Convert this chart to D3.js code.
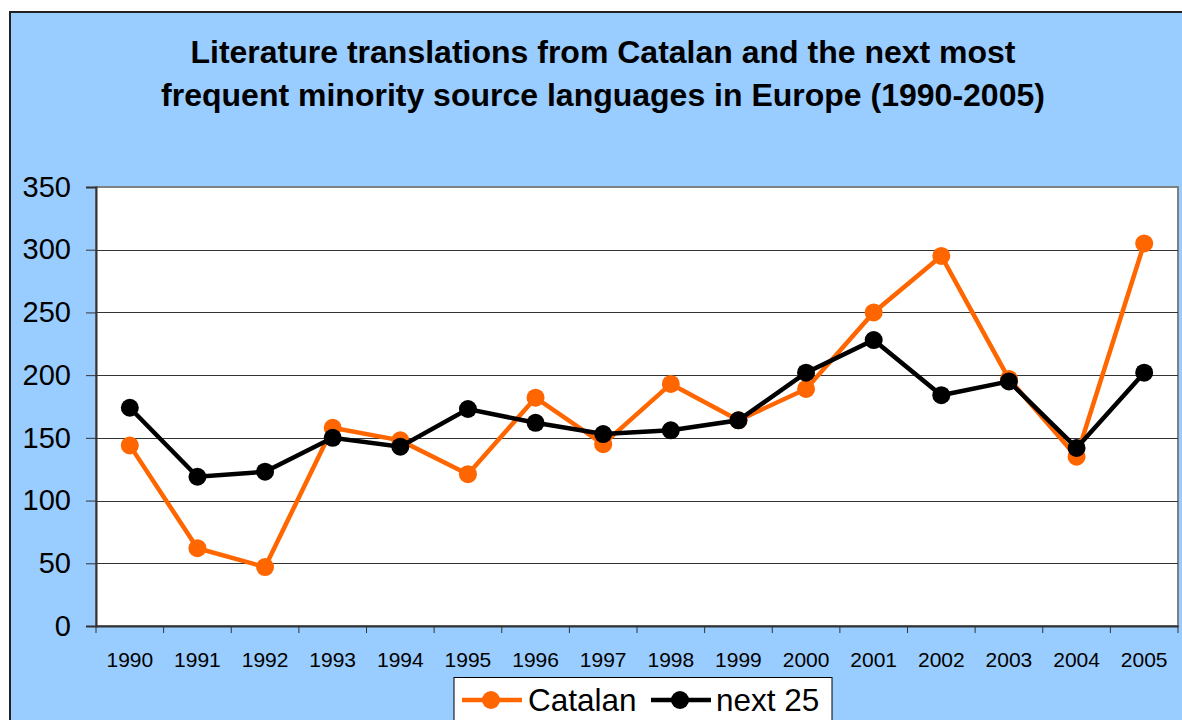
<!DOCTYPE html>
<html><head><meta charset="utf-8">
<script src="https://cdn.jsdelivr.net/npm/d3@7"></script>
<style>html,body{margin:0;padding:0;background:#fff;overflow:hidden}</style>
</head><body>
<script>
const years = ["1990","1991","1992","1993","1994","1995","1996","1997","1998","1999","2000","2001","2002","2003","2004","2005"];
const catalan = [144,62,47,158,148,121,182,145,193,164,189,250,295,197,135,305];
const next25 = [174,119,123,150,143,173,162,153,156,164,202,228,184,195,142,202];
const yTicks = [0,50,100,150,200,250,300,350];
const titleLines = ["Literature translations from Catalan and the next most","frequent minority source languages in Europe (1990-2005)"];
const seriesNames = ["Catalan","next 25"];

const W=1182,H=720;
const svg=d3.select("body").append("svg").attr("width",W).attr("height",H);
const font="Liberation Sans, Arial, sans-serif";

svg.append("rect").attr("x",10).attr("y",12).attr("width",1200).attr("height",800)
  .attr("fill","#99CCFF").attr("stroke","#222").attr("stroke-width",2);

svg.selectAll("text.title").data(titleLines).enter().append("text")
  .attr("x",603).attr("y",(d,i)=>63+i*43).attr("text-anchor","middle")
  .attr("font-family",font).attr("font-weight","bold").attr("font-size",32).attr("fill","#000").text(d=>d);

const L=96,R=1178,T=187,B=626;
const x=d3.scaleBand().domain(years).range([L,R]);
const y=d3.scaleLinear().domain([0,350]).range([B,T]);

svg.append("rect").attr("x",L).attr("y",T).attr("width",R-L).attr("height",B-T)
  .attr("fill","#fff").attr("stroke","#808080").attr("stroke-width",2);

// gridlines
svg.append("g").selectAll("line").data(yTicks.filter(d=>d>0&&d<350)).enter().append("line")
  .attr("x1",L).attr("x2",R).attr("y1",d=>Math.round(y(d))+0.5).attr("y2",d=>Math.round(y(d))+0.5)
  .attr("stroke","#333").attr("stroke-width",1);

// y axis
const ya=svg.append("g").attr("transform",`translate(${L},0)`)
  .call(d3.axisLeft(y).tickValues(yTicks).tickSize(10).tickPadding(15));
ya.select(".domain").attr("stroke","#333").attr("stroke-width",2);
ya.selectAll(".tick line").attr("stroke","#333");
ya.selectAll("text").attr("font-family",font).attr("font-size",29).attr("fill","#000");

// x axis
const xa=svg.append("g").attr("transform",`translate(0,${B})`)
  .call(d3.axisBottom(x).tickSize(0).tickPadding(26));
xa.select(".domain").attr("stroke","#333").attr("stroke-width",2);
xa.selectAll("text").attr("font-family",font).attr("font-size",21).attr("fill","#000");
svg.append("g").selectAll("line").data(years.map((d,i)=>i).concat([years.length])).enter().append("line")
  .attr("x1",i=>L+i*x.step()).attr("x2",i=>L+i*x.step()).attr("y1",B).attr("y2",B+7)
  .attr("stroke","#333").attr("stroke-width",1);

const cx=d=>x(d)+x.bandwidth()/2;
const line=d3.line().x((d,i)=>cx(years[i])).y(d=>y(d));
const series=[{name:seriesNames[0],vals:catalan,color:"#FF6600"},{name:seriesNames[1],vals:next25,color:"#000"}];
series.forEach(s=>{
  svg.append("path").attr("d",line(s.vals)).attr("fill","none").attr("stroke",s.color).attr("stroke-width",4.5);
  svg.append("g").selectAll("circle").data(s.vals).enter().append("circle")
    .attr("cx",(d,i)=>cx(years[i])).attr("cy",d=>y(d)).attr("r",9).attr("fill",s.color);
});

// legend
const lg=svg.append("g");
lg.append("rect").attr("x",454).attr("y",677.5).attr("width",378).attr("height",60)
  .attr("fill","#fff").attr("stroke","#000").attr("stroke-width",1);
const items=[{x:462,tx:528},{x:651,tx:716}];
series.forEach((s,i)=>{
  const it=items[i];
  lg.append("line").attr("x1",it.x).attr("x2",it.x+60).attr("y1",700).attr("y2",700).attr("stroke",s.color).attr("stroke-width",4.5);
  lg.append("circle").attr("cx",it.x+29).attr("cy",700).attr("r",9).attr("fill",s.color);
  lg.append("text").attr("x",it.tx).attr("y",711).attr("font-family",font).attr("font-size",31.5).attr("fill","#000").text(s.name);
});
</script>
</body></html>
